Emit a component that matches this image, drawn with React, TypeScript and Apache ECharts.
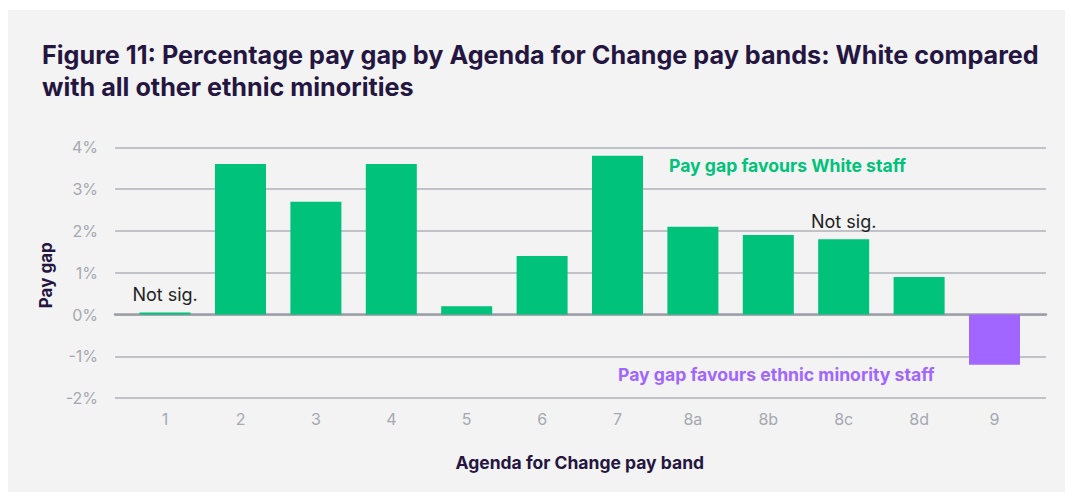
import React, { useEffect, useRef } from "react";
import * as echarts from "echarts";

const bands = ["1", "2", "3", "4", "5", "6", "7", "8a", "8b", "8c", "8d", "9"];
const payGap = [0.05, 3.6, 2.7, 3.6, 0.2, 1.4, 3.8, 2.1, 1.9, 1.8, 0.9, -1.2];
const notSignificant = ["1", "8c"];
const yTicks = [-2, -1, 0, 1, 2, 3, 4];

const GREEN = "#00c27a";
const PURPLE = "#a066ff";
const DARK = "#241640";
const AXIS_GREY = "#a5a8b1";
const FONT = "Inter";

export default function App() {
  const ref = useRef<HTMLDivElement>(null);
  useEffect(() => {
    if (!ref.current) return;
    const chart = echarts.init(ref.current, undefined, { renderer: "svg" });
    const gridBase = { top: 137.3, bottom: 93.9 };
    chart.setOption({
      animation: false,
      backgroundColor: "transparent",
      textStyle: { fontFamily: FONT },
      title: {
        text: "Figure 11: Percentage pay gap by Agenda for Change pay bands: White compared\nwith all other ethnic minorities",
        left: 34,
        top: 29,
        padding: 0,
        textStyle: {
          fontFamily: FONT,
          fontSize: 25.2,
          fontWeight: 700,
          color: DARK,
          lineHeight: 32,
        },
      },
      grid: [
        { left: 107, right: 19, ...gridBase },
        { left: 119.4, right: 32.8, ...gridBase },
      ],
      xAxis: [
        {
          gridIndex: 0,
          type: "category",
          data: [""],
          axisLabel: { show: false },
          axisTick: { show: false },
          axisLine: { show: true, onZero: true, lineStyle: { color: "#9c9fa7", width: 2.5 } },
        },
        {
          gridIndex: 1,
          type: "category",
          data: bands,
          axisTick: { show: false },
          axisLine: { show: false, onZero: false },
          axisLabel: { color: AXIS_GREY, fontSize: 16, margin: 13, fontFamily: FONT },
          name: "Agenda for Change pay band",
          nameLocation: "middle",
          nameGap: 55,
          nameTextStyle: { color: DARK, fontWeight: 700, fontSize: 17.5, fontFamily: FONT },
        },
      ],
      yAxis: [
        {
          gridIndex: 0,
          type: "value",
          min: yTicks[0],
          max: yTicks[yTicks.length - 1],
          interval: 1,
          axisLabel: {
            color: AXIS_GREY,
            fontSize: 16,
            margin: 17,
            fontFamily: FONT,
            formatter: (v: number) => `${v}%`,
          },
          axisLine: { show: false },
          axisTick: { show: false },
          splitLine: { lineStyle: { color: "#b0b2b9", width: 1.5 } },
          name: "Pay gap",
          nameLocation: "middle",
          nameGap: 56,
          nameRotate: 90,
          nameTextStyle: {
            color: DARK,
            fontWeight: 700,
            fontSize: 17,
            fontFamily: FONT,
            padding: [0, 5, 0, 0],
          },
        },
        {
          gridIndex: 1,
          type: "value",
          min: yTicks[0],
          max: yTicks[yTicks.length - 1],
          interval: 1,
          show: false,
          splitLine: { show: false },
        },
      ],
      series: [
        {
          type: "bar",
          xAxisIndex: 1,
          yAxisIndex: 1,
          barWidth: 51,
          z: 3,
          data: payGap.map((v, i) => ({
            value: v,
            itemStyle: { color: v >= 0 ? GREEN : PURPLE },
            label: notSignificant.includes(bands[i])
              ? {
                  show: true,
                  position: "top",
                  distance: 9,
                  formatter: "Not sig.",
                  color: "#222222",
                  fontSize: 18,
                  fontFamily: FONT,
                }
              : { show: false },
          })),
        },
      ],
      graphic: [
        {
          type: "text",
          left: 661,
          top: 146,
          style: {
            text: "Pay gap favours White staff",
            fill: GREEN,
            font: `700 17.6px ${FONT}`,
          },
        },
        {
          type: "text",
          left: 610,
          top: 355,
          style: {
            text: "Pay gap favours ethnic minority staff",
            fill: PURPLE,
            font: `700 17.6px ${FONT}`,
          },
        },
      ],
    });
    return () => chart.dispose();
  }, []);
  return (
    <div
      style={{
        position: "fixed",
        left: 8,
        top: 10,
        width: 1057,
        height: 482,
        background: "#f3f3f3",
      }}
    >
      <div ref={ref} style={{ width: 1057, height: 482 }} />
    </div>
  );
}
